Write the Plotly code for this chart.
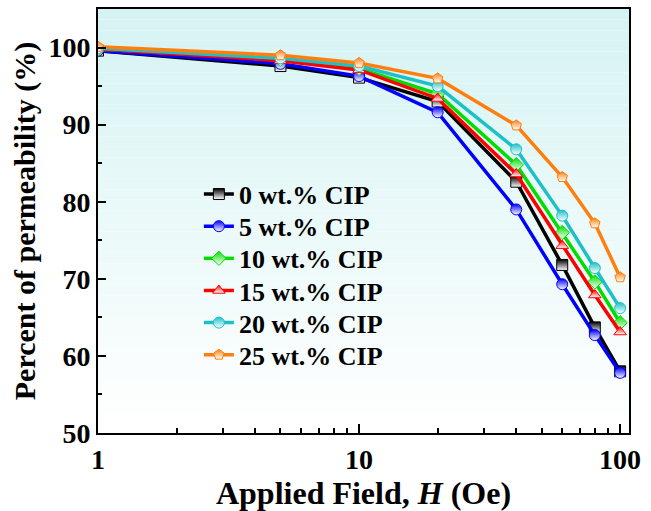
import plotly.graph_objects as go

field = [1, 5, 10, 20, 40, 60, 80, 100]
names = ["0 wt.% CIP", "5 wt.% CIP", "10 wt.% CIP", "15 wt.% CIP", "20 wt.% CIP", "25 wt.% CIP"]
cip0 = [99.6, 97.6, 96.1, 93.0, 82.6, 71.8, 63.7, 58.0]
cip5 = [99.6, 97.9, 96.3, 91.6, 79.0, 69.3, 62.7, 57.8]
cip10 = [99.8, 98.5, 97.3, 94.0, 84.8, 76.0, 69.6, 64.3]
cip15 = [99.8, 98.3, 97.1, 93.4, 83.6, 74.3, 67.9, 63.1]
cip20 = [99.9, 98.6, 97.6, 95.0, 86.8, 78.2, 71.4, 66.2]
cip25 = [100.1, 99.0, 98.0, 96.0, 89.9, 83.2, 77.2, 70.2]
series = [cip0, cip5, cip10, cip15, cip20, cip25]
colors = ["#000000", "#0000ff", "#00dd00", "#ff0000", "#1ec0c8", "#ff7f0e"]
symbols = ["square", "circle", "diamond", "triangle-up", "circle", "pentagon"]

FONT = "Liberation Serif"
legend_ids = ["legend", "legend2", "legend3", "legend4", "legend5", "legend6"]

fig = go.Figure()
for i, (nm, ys, c, s) in enumerate(zip(names, series, colors, symbols)):
    fig.add_trace(go.Scatter(
        x=field, y=ys, name=nm, mode="lines+markers",
        legend=legend_ids[i],
        line=dict(color=c, width=3.5),
        marker=dict(symbol=s, size=11, color=c,
                    gradient=dict(type="vertical", color="white"),
                    line=dict(color=c, width=1)),
    ))

# vertical background gradient (cyan at top to white at bottom)
n = 40
top = (214, 243, 243)
for k in range(n):
    t = k / (n - 1)
    r = int(round(top[0] + (255 - top[0]) * t))
    g = int(round(top[1] + (255 - top[1]) * t))
    b = int(round(top[2] + (255 - top[2]) * t))
    fig.add_shape(type="rect", xref="paper", yref="paper",
                  x0=0, x1=1, y0=1 - (k + 1) / n, y1=1 - k / n,
                  fillcolor=f"rgb({r},{g},{b})", line=dict(width=0),
                  layer="below")

# legends: one per series, stacked with fixed spacing
plot_top, plot_h = 7, 426
row_first, row_step = 193, 32.3
legends = {}
for i, lid in enumerate(legend_ids):
    yc = row_first + i * row_step
    legends[lid] = dict(x=0.19, y=1 - (yc - plot_top) / plot_h,
                        xanchor="left", yanchor="middle",
                        bgcolor="rgba(0,0,0,0)",
                        font=dict(family=FONT, size=26, color="black", weight="bold"))

fig.update_layout(
    width=651, height=511,
    margin=dict(l=98, r=22, t=7, b=78),
    paper_bgcolor="white", plot_bgcolor="white",
    font=dict(family=FONT, size=20, color="black"),
    showlegend=True,
    **legends,
    xaxis=dict(type="log", range=[0, 2.034], dtick=1,
               tickvals=[1, 10, 100], ticktext=["1", "10", "100"],
               ticks="inside", ticklen=9, tickwidth=2, tickcolor="black",
               minor=dict(ticks="inside", ticklen=5, tickwidth=2, tickcolor="black", dtick="D1", showgrid=False),
               showline=True, linewidth=2, linecolor="black", mirror=True,
               showgrid=False, zeroline=False,
               tickfont=dict(family=FONT, size=28, weight="bold"),
               title=dict(text="Applied Field, <i>H</i> (Oe)", standoff=6,
                          font=dict(family=FONT, size=32, weight="bold"))),
    yaxis=dict(range=[50, 105], dtick=10, tick0=50,
               ticks="inside", ticklen=8, tickwidth=2, tickcolor="black",
               minor=dict(ticks="inside", ticklen=4, tickwidth=2, tickcolor="black", dtick=5, showgrid=False),
               showline=True, linewidth=2, linecolor="black", mirror=True,
               showgrid=False, zeroline=False,
               tickfont=dict(family=FONT, size=28, weight="bold"),
               title=dict(text="Percent of permeability (%)", standoff=4,
                          font=dict(family=FONT, size=30, weight="bold"))),
)

fig.write_html("out.html")
